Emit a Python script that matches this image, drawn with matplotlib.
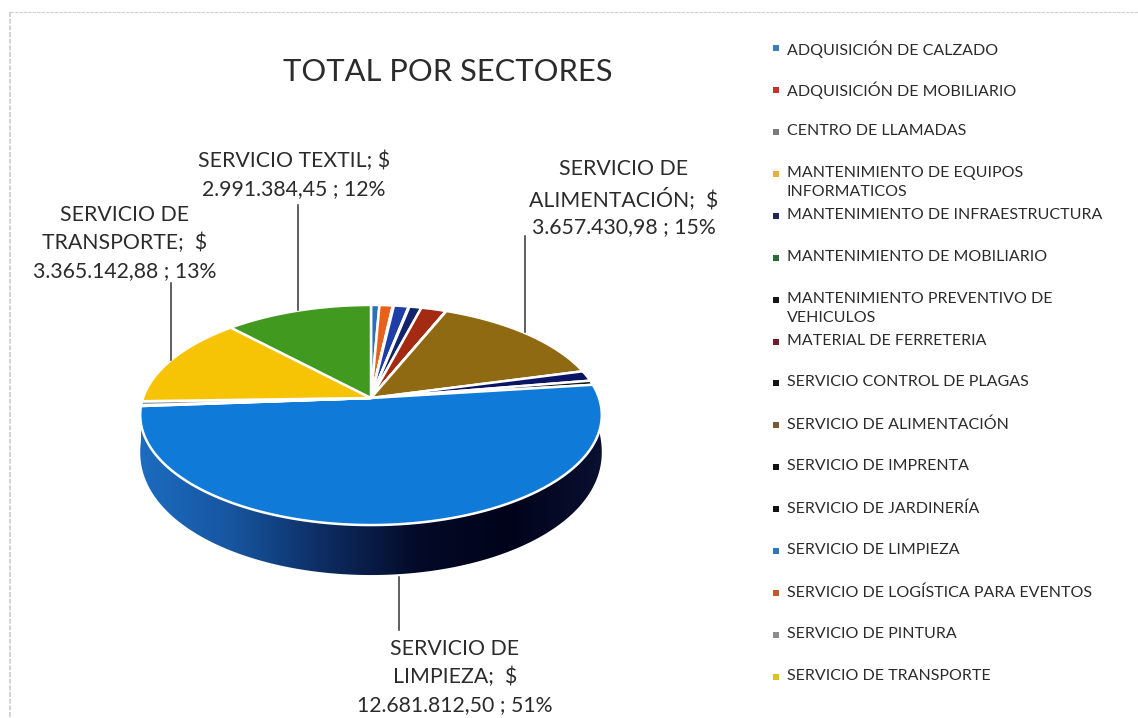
import numpy as np
import matplotlib
matplotlib.use("Agg")
import matplotlib.pyplot as plt
from matplotlib.colors import LinearSegmentedColormap
from matplotlib.patches import Polygon

plt.rcParams["font.family"] = ["Lato", "DejaVu Sans"]

sectors = [
    "ADQUISICIÓN DE CALZADO", "ADQUISICIÓN DE MOBILIARIO", "CENTRO DE LLAMADAS",
    "MANTENIMIENTO DE EQUIPOS\nINFORMATICOS", "MANTENIMIENTO DE INFRAESTRUCTURA",
    "MANTENIMIENTO DE MOBILIARIO", "MANTENIMIENTO PREVENTIVO DE\nVEHICULOS",
    "MATERIAL DE FERRETERIA", "SERVICIO CONTROL DE PLAGAS", "SERVICIO DE ALIMENTACIÓN",
    "SERVICIO DE IMPRENTA", "SERVICIO DE JARDINERÍA", "SERVICIO DE LIMPIEZA",
    "SERVICIO DE LOGÍSTICA PARA EVENTOS", "SERVICIO DE PINTURA", "SERVICIO DE TRANSPORTE",
    "SERVICIO TEXTIL",
]
values = [
    170000, 270000, 12000, 10000, 300000, 15000, 245000, 510000, 8000,
    3657430.98, 380000, 160000, 12681812.50, 25000, 150000, 3365142.88, 2991384.45,
]
colors = [
    "#2a70bd", "#e8601a", "#8c8c8c", "#e0a020", "#1f3fa8", "#2f7a20", "#12246e",
    "#a52a12", "#1a1a1a", "#8f6a12", "#0c1464", "#10181c", "#107ad8", "#d8601c",
    "#9a9a9a", "#f6c405", "#41991f",
]
legend_colors = [
    "#3b7fb5", "#c8342c", "#7c7c7c", "#e8b040", "#23235e", "#2a6a38", "#151515",
    "#701c28", "#151515", "#7a5a30", "#101010", "#101010", "#3078b8", "#c05a28",
    "#8c8c8c", "#d8c020",
]

# labelled slices: sector index, label lines before the amount
callouts = {
    15: ["SERVICIO DE", "TRANSPORTE;  $"],
    16: ["SERVICIO TEXTIL; $"],
    9: ["SERVICIO DE", "ALIMENTACIÓN;  $"],
    12: ["SERVICIO DE", "LIMPIEZA;  $"],
}
callout_pos = {15: (125, 243), 16: (294, 175), 9: (624, 198), 12: (455, 677)}
leaders = {15: (171, 283, 360), 16: (298, 205, 310), 9: (525, 236, 332), 12: (399, 577, 630)}

CX, CY = 371, 398
A, B, K = 228, 107.4, 0.1546
DEPTH = 50


def project(t):
    u, v = np.sin(t), -np.cos(t)
    w = 1 - K * v
    return CX + A * u / w, CY + B * v / w


def money(x):
    s = f"{x:,.2f}"
    return s.replace(",", "#").replace(".", ",").replace("#", ".")


fig = plt.figure(figsize=(11.38, 7.18), dpi=100)
ax = fig.add_axes([0, 0, 1, 1])
ax.axis("off")

# scanned page edge
ax.plot([10, 1138], [12, 12], color="#d0d0d0", lw=0.8, ls=(0, (3, 1)))
ax.plot([10, 10], [12, 718], color="#cccccc", lw=1.2, ls=(0, (3, 1)))

total = sum(values)
edges = np.concatenate([[0], np.cumsum(values)]) / total * 2 * np.pi

# side wall of the big slice, gradient clipped to its outline
side_cmap = LinearSegmentedColormap.from_list(
    "side", ["#1c6cc0", "#17559f", "#0d2c60", "#040a28", "#00031a", "#0a1030"])
i_big = values.index(max(values))
ts = np.linspace(edges[i_big], edges[i_big + 1], 300)
sx, sy = project(ts)
# wall is shallower at the far left and right than at the front
drop = DEPTH * (0.62 + 0.38 * np.clip(-np.cos(ts), 0, 1) ** 0.6)
outline = np.c_[np.r_[sx, sx[::-1]], np.r_[sy, (sy + drop)[::-1]]]
img = ax.imshow(np.linspace(0, 1, 256)[None, :], cmap=side_cmap, aspect="auto",
                extent=(sx.min(), sx.max(), 600, 380), zorder=2)
img.set_clip_path(Polygon(outline, transform=ax.transData))

# top face
for i, col in enumerate(colors):
    ts = np.linspace(edges[i], edges[i + 1], max(4, int((edges[i + 1] - edges[i]) * 120)))
    px, py = project(ts)
    ax.fill(np.r_[CX, px], np.r_[CY, py], facecolor=col, edgecolor="white",
            lw=1.8, joinstyle="round", zorder=3)

for i, (x, y0, y1) in leaders.items():
    ax.plot([x, x], [y0, y1], color="#333333", lw=1.1, zorder=4)

# data labels
for i, lines in callouts.items():
    pct = round(values[i] / total * 100)
    last = f"{money(values[i])} ; {pct}%"
    txt = "\n".join(lines) + "\n" + last
    ax.text(callout_pos[i][0], callout_pos[i][1], txt, ha="center", va="center",
            fontsize=15.3, color="#2b2b2b", linespacing=1.46, zorder=5)

ax.text(448, 72, "TOTAL POR SECTORES", ha="center", va="center", fontsize=22.2, color="#2b2b2b")

# legend, last sector does not fit in it
for i, name in enumerate(sectors[:16]):
    y = 48 + i * 41.93
    ax.scatter([776], [y], marker="s", s=13, color=legend_colors[i], lw=0)
    ax.text(787, y - 8, name, ha="left", va="top", fontsize=11.5, color="#2b2b2b", linespacing=1.5)

ax.set_xlim(0, 1138)
ax.set_ylim(718, 0)

fig.savefig("out.png", dpi=100)
